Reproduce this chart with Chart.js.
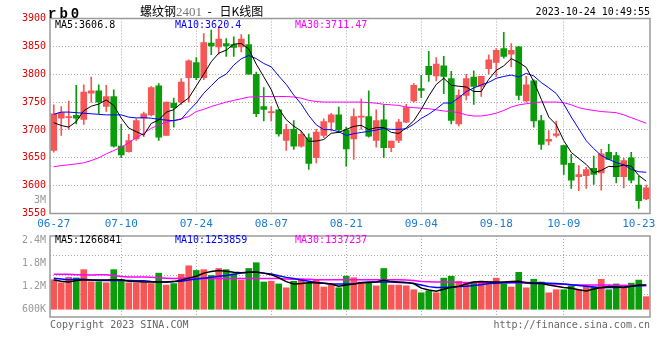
<!DOCTYPE html>
<html>
<head>
<meta charset="utf-8">
<script src="https://cdn.jsdelivr.net/npm/chart.js@4.4.0/dist/chart.umd.min.js"></script>
<style>
body{margin:0;background:#fff;width:660px;height:360px;position:relative;overflow:hidden;font-family:'DejaVu Sans Mono',monospace}
canvas{position:absolute;left:0}
.t{position:absolute;white-space:nowrap;font-size:10px;line-height:10px}
</style>
</head>
<body>
<canvas id="graficoK" width="660" height="232" style="top:0"></canvas>
<canvas id="graficoVol" width="660" height="101" style="top:226px"></canvas>

<div class="t" style="left:48px;top:6px;font:bold 14px 'Liberation Mono',monospace;letter-spacing:3px">rb0</div>
<div class="t" style="left:140px;top:4px;font-size:12px;line-height:14px;font-family:'Noto Sans CJK SC',sans-serif">螺纹钢<span style="color:#777;font-family:'Liberation Serif',serif;font-size:13px">2401</span>&nbsp; - &nbsp;&nbsp;日K线图</div>
<div class="t" style="right:10px;top:7px">2023-10-24 10:49:55</div>
<div class="t" style="left:55px;top:20px;color:#000">MA5:3606.8</div>
<div class="t" style="left:175px;top:20px;color:#0000ff">MA10:3620.4</div>
<div class="t" style="left:295px;top:20px;color:#ff00ff">MA30:3711.47</div>
<div class="t" style="right:614px;top:195px;color:#999">3M</div>
<div class="t" style="left:55px;top:235px;color:#000">MA5:1266841</div>
<div class="t" style="left:175px;top:235px;color:#0000ff">MA10:1253859</div>
<div class="t" style="left:295px;top:235px;color:#ff00ff">MA30:1337237</div>
<div class="t" style="left:50px;top:320px;color:#666">Copyright 2023 SINA.COM</div>
<div class="t" style="right:10px;top:320px;color:#666">http://finance.sina.com.cn</div>

<script>
var elementoK = document.getElementById('graficoK').getContext('2d');
var elementoVol = document.getElementById('graficoVol').getContext('2d');

// fechas de cada sesion
var fechas = ['06-27','06-28','06-29','06-30','07-03','07-04','07-05','07-06','07-07','07-10',
  '07-11','07-12','07-13','07-14','07-17','07-18','07-19','07-20','07-21','07-24',
  '07-25','07-26','07-27','07-28','07-31','08-01','08-02','08-03','08-04','08-07',
  '08-08','08-09','08-10','08-11','08-14','08-15','08-16','08-17','08-18','08-21',
  '08-22','08-23','08-24','08-25','08-28','08-29','08-30','08-31','09-01','09-04',
  '09-05','09-06','09-07','09-08','09-11','09-12','09-13','09-14','09-15','09-18',
  '09-19','09-20','09-21','09-22','09-25','09-26','09-27','09-28','10-09','10-10',
  '10-11','10-12','10-13','10-16','10-17','10-18','10-19','10-20','10-23','10-24'];
var etiquetasX = ['06-27','07-10','07-24','08-07','08-21','09-04','09-18','10-09','10-23'];
var lineasX = ['07-10','07-24','08-07','08-21','09-04','09-18','10-09'];

var apertura = [3663,3721,3722,3726,3719,3766,3770,3742,3760,3671, 3661,3684,3721,3727,3779,3690,3748,3750,3794,3821,
  3794,3856,3849,3855,3853,3849,3853,3800,3742,3731, 3736,3681,3701,3671,3686,3650,3690,3714,3727,3700,
  3684,3723,3724,3681,3718,3668,3681,3714,3752,3774, 3814,3797,3815,3792,3711,3762,3795,3778,3810,3821,
  3846,3836,3849,3752,3788,3717,3680,3690,3672,3640, 3616,3618,3631,3623,3660,3654,3616,3650,3601,3576];
var cierre = [3729,3731,3723,3721,3768,3770,3750,3760,3671,3655, 3681,3717,3729,3776,3687,3750,3740,3786,3824,3794,
  3857,3851,3863,3851,3848,3863,3800,3729,3737,3732, 3693,3701,3671,3692,3640,3696,3715,3727,3700,3666,
  3724,3724,3689,3717,3668,3680,3714,3740,3780,3771, 3799,3818,3796,3717,3762,3792,3778,3796,3826,3843,
  3832,3843,3762,3781,3716,3674,3683,3693,3638,3610, 3620,3629,3620,3657,3647,3616,3645,3610,3573,3596];
var maximo = [3745,3742,3752,3780,3781,3795,3781,3780,3772,3710, 3692,3720,3732,3778,3783,3750,3757,3792,3826,3830,
  3873,3879,3885,3864,3867,3871,3871,3804,3776,3742, 3736,3710,3717,3698,3693,3701,3720,3730,3741,3705,
  3738,3756,3770,3736,3745,3680,3719,3746,3783,3798, 3841,3830,3832,3805,3772,3800,3806,3796,3835,3846,
  3875,3855,3850,3796,3790,3726,3699,3716,3672,3656, 3636,3633,3653,3665,3674,3660,3649,3660,3617,3601];
var minimo = [3660,3690,3701,3711,3710,3750,3729,3733,3669,3650, 3660,3681,3688,3725,3681,3690,3705,3746,3750,3790,
  3790,3835,3836,3832,3832,3840,3800,3724,3716,3716, 3689,3663,3665,3669,3629,3641,3686,3698,3695,3635,
  3647,3701,3687,3669,3650,3661,3677,3713,3750,3758, 3787,3788,3765,3711,3707,3754,3746,3760,3800,3796,
  3829,3813,3754,3750,3705,3665,3673,3687,3620,3595, 3591,3595,3602,3592,3647,3605,3596,3605,3559,3575];

var ma5 = [3713,3708,3705,3715,3734.4,3742.6,3746.4,3753.8,3743.8,3721.2, 3703.4,3696.8,3690.6,3711.6,3718,3731.8,3736.4,3747.8,3757.4,3778.8,
  3800.2,3822.4,3837.8,3843.2,3854,3855.2,3845,3818.2,3795.4,3772.2, 3738.2,3718.4,3706.8,3697.8,3679.4,3680,3682.8,3694,3695.6,3700.8,
  3706.4,3708.2,3700.6,3704,3704.4,3695.6,3693.6,3703.8,3716.4,3737, 3760.8,3781.6,3792.8,3780.2,3778.4,3777,3769,3769,3790.8,3807,
  3815,3828,3821.2,3812.2,3786.8,3755.2,3723.2,3709.4,3680.8,3659.6, 3648.8,3638,3623.4,3627.2,3634.6,3633.8,3637,3635,3618.2,3608];
var ma10 = [3728,3732,3732,3731,3730,3729,3728,3727,3727,3727, 3723,3721.6,3722,3721,3719,3717.6,3716.6,3719.2,3734.5,3748.4,
  3766,3779.4,3792.8,3800.3,3816.4,3827.7,3833.7,3828,3819.3,3813.1, 3796.7,3781.7,3762.5,3746.6,3725.8,3709.1,3700.6,3700.4,3696.7,3690.1,
  3693.2,3695.5,3697.3,3699.8,3702.6,3701,3700.9,3702.2,3710.2,3720.7, 3728.2,3737.6,3748.3,3748.3,3757.7,3768.9,3775.3,3780.9,3785.5,3792.7,
  3796,3798.5,3795.1,3801.5,3796.9,3785.1,3775.6,3765.3,3746.5,3723.2, 3702,3680.6,3666.4,3654,3647.1,3641.3,3637.5,3629.2,3625,3624];
var ma30 = [3634,3636,3637.5,3639,3641,3645,3650,3657,3663,3669, 3677,3686,3694,3703,3709,3714,3717,3720,3724,3733,
  3737,3742,3746,3750,3753,3756,3759,3759.5,3760,3760, 3760,3760,3759,3757,3753,3751,3750,3750,3750,3750,
  3750,3750,3749,3748,3746,3745,3744,3741,3740,3739, 3738,3736,3734,3733,3731,3727,3725,3725,3727,3730,
  3735,3741,3745,3747,3749,3750,3750,3750,3749,3745, 3740,3737,3735,3733,3732,3731,3727,3722,3717,3712];

var volumen = [1380000,1300000,1440000,1425000,1640000,1325000,1325000,1300000,1640000,1380000,
  1300000,1300000,1300000,1280000,1550000,1240000,1280000,1520000,1740000,1620000,
  1640000,1490000,1670000,1640000,1530000,1370000,1670000,1820000,1320000,1340000,
  1270000,1170000,1340000,1400000,1290000,1370000,1190000,1240000,1170000,1470000,
  1430000,1320000,1290000,1220000,1670000,1240000,1240000,1220000,1120000,1040000,
  1090000,1040000,1420000,1470000,1340000,1290000,1320000,1340000,1340000,1420000,
  1270000,1190000,1570000,1170000,1390000,1320000,1040000,1120000,1120000,1220000,
  1120000,1220000,1190000,1390000,1120000,1270000,1240000,1290000,1370000,940000];
var volMA5 = [1370000,1340000,1320000,1360000,1380000,1370000,1370000,1370000,1380000,1380000,
  1340000,1330000,1320000,1320000,1320000,1320000,1330000,1370000,1420000,1470000,
  1550000,1590000,1620000,1600000,1570000,1560000,1570000,1580000,1550000,1510000,
  1430000,1330000,1270000,1280000,1300000,1300000,1290000,1270000,1210000,1240000,
  1270000,1300000,1310000,1320000,1370000,1330000,1320000,1310000,1280000,1160000,
  1110000,1080000,1130000,1180000,1210000,1270000,1320000,1330000,1320000,1320000,
  1320000,1330000,1340000,1300000,1280000,1280000,1240000,1210000,1180000,1160000,
  1120000,1090000,1140000,1180000,1200000,1190000,1180000,1210000,1240000,1240000];
var volMA10 = [1420000,1400000,1380000,1390000,1390000,1370000,1360000,1360000,1360000,1360000,
  1360000,1350000,1350000,1330000,1320000,1320000,1330000,1340000,1370000,1400000,
  1420000,1440000,1470000,1490000,1520000,1550000,1570000,1570000,1550000,1530000,
  1480000,1440000,1410000,1370000,1340000,1310000,1290000,1270000,1270000,1270000,
  1270000,1300000,1320000,1320000,1320000,1320000,1310000,1300000,1280000,1240000,
  1200000,1180000,1180000,1190000,1200000,1210000,1230000,1250000,1280000,1290000,
  1300000,1310000,1310000,1310000,1300000,1300000,1290000,1280000,1270000,1250000,
  1230000,1210000,1190000,1170000,1180000,1180000,1190000,1210000,1220000,1230000];
var volMA30 = [1520000,1520000,1520000,1510000,1510000,1500000,1510000,1510000,1490000,1460000,
  1450000,1450000,1450000,1440000,1430000,1420000,1410000,1420000,1430000,1420000,
  1410000,1410000,1410000,1410000,1410000,1410000,1410000,1410000,1410000,1410000,
  1410000,1400000,1390000,1390000,1390000,1380000,1380000,1380000,1380000,1380000,
  1380000,1380000,1380000,1380000,1380000,1380000,1380000,1370000,1360000,1330000,
  1325000,1320000,1320000,1320000,1310000,1310000,1310000,1300000,1300000,1300000,
  1300000,1300000,1300000,1290000,1280000,1280000,1270000,1270000,1260000,1250000,
  1240000,1240000,1240000,1240000,1240000,1230000,1230000,1230000,1230000,1230000];

var marcasPrecio = {min: 3550, max: 3900, paso: 50};
var valoresEtiquetaVol = [600000, 1200000, 1800000, 2400000];
var etiquetasVol = ['600K', '1.2M', '1.8M', '2.4M'];
var lineasVol = [1000000, 1500000, 2000000];

var rojo = '#f65656', verde = '#0b9c0b';
var colores = apertura.map((o, i) => cierre[i] >= o ? rojo : verde);
var cuerpos = apertura.map((o, i) => [o, cierre[i]]);
var mechas = minimo.map((l, i) => [l, maximo[i]]);

var fuente = "'DejaVu Sans Mono', monospace";

// marco gris alrededor del area del grafico
var marco = {
  id: 'marco',
  afterDraw(chart) {
    var a = chart.chartArea, c = chart.ctx;
    c.save();
    c.strokeStyle = '#9a9a9a';
    c.lineWidth = 1.5;
    c.strokeRect(a.left, a.top, a.right - a.left, a.bottom - a.top);
    c.restore();
  }
};

function ejeX(mostrarTexto, alto) {
  return {
    offset: true,
    grid: {
      offset: false,
      drawTicks: false,
      color: (ctx) => lineasX.includes(fechas[ctx.index]) ? '#aaa' : 'transparent'
    },
    border: {display: false, dash: [1, 2]},
    ticks: {
      display: mostrarTexto,
      autoSkip: false,
      maxRotation: 0,
      minRotation: 0,
      padding: 4,
      color: '#1a7ad2',
      font: {family: fuente, size: 11},
      callback: (v, i) => etiquetasX.includes(fechas[i]) ? fechas[i] : ''
    },
    afterFit: (s) => { s.height = alto; }
  };
}

function lineaMA(datos, color, ancho, orden) {
  return {type: 'line', data: datos, borderColor: color, borderWidth: ancho, pointRadius: 0, tension: 0, order: orden};
}

var graficoK = new Chart(elementoK, {
  type: 'bar',
  data: {
    labels: fechas,
    datasets: [
      lineaMA(ma5, '#000000', 1, 0),
      lineaMA(ma10, '#0000ff', 1, 1),
      lineaMA(ma30, '#ff00ff', 1, 2),
      {label: 'cuerpo', data: cuerpos, backgroundColor: colores, barThickness: 6, minBarLength: 1, grouped: false, order: 3},
      {label: 'mecha', data: mechas, backgroundColor: colores, barThickness: 1, grouped: false, order: 4}
    ]
  },
  options: {
    responsive: false,
    animation: false,
    layout: {padding: {top: 18.5, right: 10, left: 0, bottom: 0}},
    plugins: {legend: {display: false}, tooltip: {enabled: false}},
    scales: {
      x: ejeX(true, 18.5),
      y: {
        min: marcasPrecio.min,
        max: marcasPrecio.max,
        grid: {
          drawTicks: false,
          color: (ctx) => (ctx.tick.value > marcasPrecio.min && ctx.tick.value < marcasPrecio.max) ? '#aaa' : 'transparent'
        },
        border: {display: false, dash: [1, 2]},
        ticks: {stepSize: marcasPrecio.paso, padding: 4, color: '#e00000', font: {family: fuente, size: 10},
          callback: (v) => String(v)},
        afterFit: (s) => { s.width = 50; }
      }
    }
  },
  plugins: [marco]
});

var graficoVol = new Chart(elementoVol, {
  type: 'bar',
  data: {
    labels: fechas,
    datasets: [
      lineaMA(volMA5, '#000000', 1.5, 0),
      lineaMA(volMA10, '#0000ff', 1.5, 1),
      lineaMA(volMA30, '#ff00ff', 1.5, 2),
      {label: 'volumen', data: volumen, base: 600000, backgroundColor: colores, barThickness: 6, order: 3}
    ]
  },
  options: {
    responsive: false,
    animation: false,
    layout: {padding: {top: 8.5, right: 10, left: 0, bottom: 0}},
    plugins: {legend: {display: false}, tooltip: {enabled: false}},
    scales: {
      x: ejeX(false, 8.5),
      y: {
        min: 412500,
        max: 2512500,
        afterBuildTicks: (s) => {
          s.ticks = valoresEtiquetaVol.concat(lineasVol).sort((a, b) => a - b).map((v) => ({value: v}));
        },
        grid: {
          drawTicks: false,
          color: (ctx) => lineasVol.includes(ctx.tick.value) ? '#aaa' : 'transparent'
        },
        border: {display: false, dash: [1, 2]},
        ticks: {
          autoSkip: false,
          padding: 4,
          color: '#999',
          font: {family: fuente, size: 10},
          callback: (v) => { var k = valoresEtiquetaVol.indexOf(v); return k >= 0 ? etiquetasVol[k] : ''; }
        },
        afterFit: (s) => { s.width = 50; }
      }
    }
  },
  plugins: [marco]
});
</script>
</body>
</html>
